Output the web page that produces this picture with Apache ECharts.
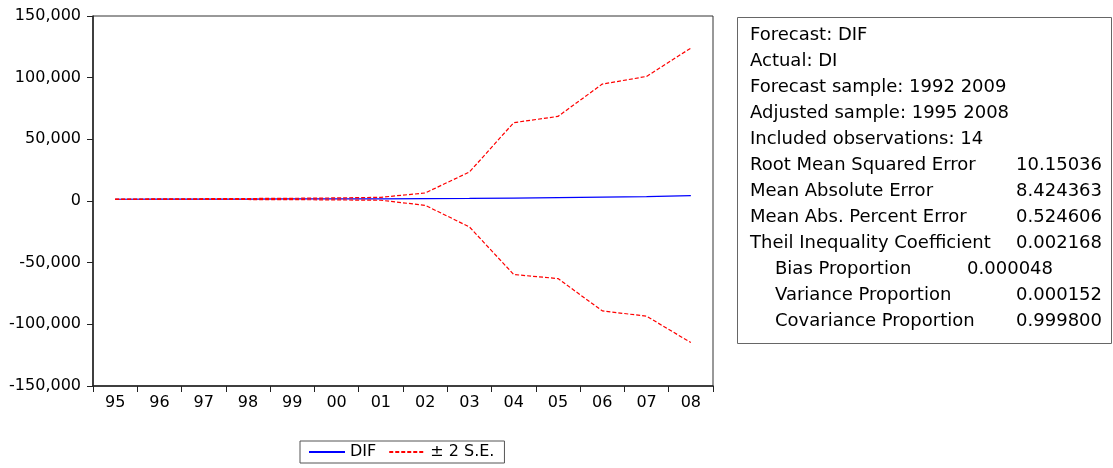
<!DOCTYPE html>
<html>
<head>
<meta charset="utf-8">
<script src="https://cdn.jsdelivr.net/npm/echarts@6/dist/echarts.min.js"></script>
<style>
  html, body { margin: 0; padding: 0; background: #fff; }
  #chart { width: 1113px; height: 468px; }
</style>
</head>
<body>
<div id="chart"></div>
<script>
const years = ['95', '96', '97', '98', '99', '00', '01', '02', '03', '04', '05', '06', '07', '08']
const yTicks = [-150000, 150000, 50000] // min, max, interval

const dif = [1400, 1500, 1550, 1600, 1650, 1700, 1800, 1950, 2100, 2400, 2700, 3100, 3600, 4400]
const upperSE = [1500, 1700, 1850, 2000, 2200, 2500, 3000, 6500, 23500, 63500, 68600, 94800, 101000, 124000]
const lowerSE = [1300, 1300, 1250, 1200, 1100, 900, 600, -3500, -21000, -59600, -62900, -89100, -93400, -114800]

const statLabels = [
  'Forecast: DIF',
  'Actual: DI',
  'Forecast sample: 1992 2009',
  'Adjusted sample: 1995 2008',
  'Included observations: 14',
  'Root Mean Squared Error',
  'Mean Absolute Error',
  'Mean Abs. Percent Error',
  'Theil Inequality Coefficient',
  'Bias Proportion',
  'Variance Proportion',
  'Covariance Proportion'
]
const statValues = ['', '', '', '', '', '10.15036', '8.424363', '0.524606', '0.002168', '0.000048', '0.000152', '0.999800']
const statIndent = [0, 0, 0, 0, 0, 0, 0, 0, 0, 1, 1, 1]

const FONT = 'DejaVu Sans, Liberation Sans, sans-serif'

function buildStats() {
  const els = [{
    type: 'rect',
    shape: { x: 737.5, y: 17.5, width: 374, height: 326 },
    style: { fill: '#fff', stroke: '#666', lineWidth: 1 }
  }]
  statLabels.forEach((lab, i) => {
    const y = 35.5 + 26 * i
    els.push({
      type: 'text', x: statIndent[i] ? 775 : 750, y,
      style: { text: lab, font: '18px ' + FONT, fill: '#000', textVerticalAlign: 'middle' }
    })
    if (statValues[i]) {
      els.push({
        type: 'text', x: i === 9 ? 1053 : 1102, y,
        style: { text: statValues[i], font: '18px ' + FONT, fill: '#000', textAlign: 'right', textVerticalAlign: 'middle' }
      })
    }
  })
  return els
}

const chart = echarts.init(document.getElementById('chart'))
chart.setOption({
  animation: false,
  backgroundColor: '#fff',
  grid: {
    left: 93, top: 16, right: 400, bottom: 82,
    show: true, borderColor: '#333', borderWidth: 1
  },
  legend: {
    left: 300, top: 441,
    padding: [3, 10, 3, 8],
    borderColor: '#555', borderWidth: 1,
    itemWidth: 36, itemHeight: 10, itemGap: 12,
    itemStyle: { opacity: 0 },
    textStyle: { fontFamily: FONT, fontSize: 16, color: '#000' },
    data: ['DIF', '± 2 S.E.']
  },
  xAxis: {
    type: 'category',
    data: years,
    boundaryGap: true,
    axisLine: { onZero: false, lineStyle: { color: '#222', width: 1.5 } },
    axisTick: { show: true, length: 6, lineStyle: { color: '#222' } },
    axisLabel: { fontFamily: FONT, fontSize: 16, color: '#000', margin: 9, interval: 0 },
    splitLine: { show: false }
  },
  yAxis: {
    type: 'value',
    min: yTicks[0], max: yTicks[1], interval: yTicks[2],
    axisLine: { show: true, lineStyle: { color: '#222', width: 1.5 } },
    axisTick: { show: true, length: 6, lineStyle: { color: '#222' } },
    axisLabel: {
      fontFamily: FONT, fontSize: 16, color: '#000', margin: 12,
      formatter: v => v.toLocaleString('en-US')
    },
    splitLine: { show: false }
  },
  series: [
    {
      name: 'DIF', type: 'line', data: dif,
      symbol: 'none', color: '#0000ff',
      lineStyle: { color: '#0000ff', width: 1.2 }
    },
    {
      name: '± 2 S.E.', type: 'line', data: upperSE,
      symbol: 'none', color: '#ff0000',
      lineStyle: { color: '#ff0000', width: 1.2, type: [4, 2] }
    },
    {
      name: '± 2 S.E.', type: 'line', data: lowerSE,
      symbol: 'none', color: '#ff0000',
      lineStyle: { color: '#ff0000', width: 1.2, type: [4, 2] }
    }
  ],
  graphic: buildStats()
})
</script>
</body>
</html>
